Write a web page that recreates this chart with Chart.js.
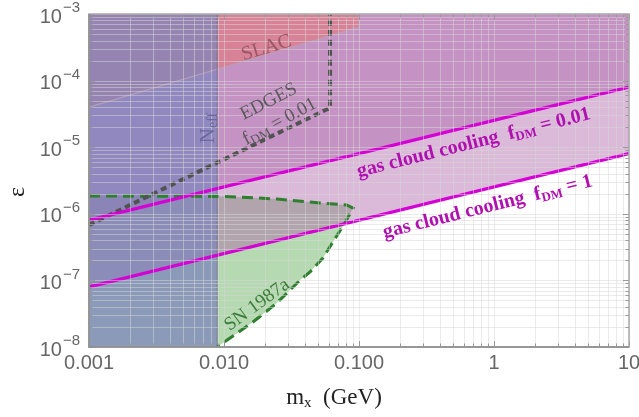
<!DOCTYPE html>
<html><head><meta charset="utf-8">
<script src="https://cdn.jsdelivr.net/npm/chart.js@4.4.1/dist/chart.umd.min.js"></script>
<style>html,body{margin:0;padding:0;background:#fff}#wrap{width:639px;height:417px}</style>
</head><body><div id="wrap"><canvas id="c" width="639" height="417"></canvas></div>
<script>
// axis ranges and ticks
const xMin = 0.001, xMax = 10, yMin = 1e-8, yMax = 1e-3;
const xTickValues = [0.001, 0.01, 0.1, 1, 10];
const xTickLabels = ['0.001', '0.010', '0.100', '1', '10'];
const yTickExponents = [-3, -4, -5, -6, -7, -8];

// Neff excluded region (right edge)
const neffEdge = 0.0089;
// SLAC region lower boundary
const slacX = [0.001, 0.1, 0.1];
const slacY = [4e-5, 6.3e-4, 1e-3];
// EDGES f_DM=0.01 dashed
const edgesX = [0.001, 0.061, 0.061];
const edgesY = [6.8e-7, 3.9e-5, 1e-3];
// gas cloud cooling lines
const gasX = [0.001, 10];
const gasF1 = [8e-8, 8e-6];
const gasF001 = [8e-7, 8e-5];
// SN 1987a boundary
const snX = [0.001, 0.01, 0.0247, 0.0514, 0.081, 0.0904, 0.0787, 0.054, 0.0434, 0.0366, 0.0247, 0.0164, 0.0089];
const snY = [1.85e-6, 1.82e-6, 1.67e-6, 1.45e-6, 1.36e-6, 1.22e-6, 7.3e-7, 2.17e-7, 1.34e-7, 1.01e-7, 4.6e-8, 2.37e-8, 1e-8];

const pts = (xs, ys) => xs.map((x, i) => ({x: x, y: ys[i]}));
const neffPoly = pts([xMin, neffEdge, neffEdge, xMin], [yMin, yMin, yMax, yMax]);
const slacPoly = pts(slacX.concat([xMin]), slacY.concat([yMax]));
const snPoly = pts(snX.concat([xMin]), snY.concat([yMin]));

const base = {showLine: true, pointRadius: 0, pointHoverRadius: 0, tension: 0};
const datasets = [
  Object.assign({}, base, {label: 'gasF1', data: pts(gasX, gasF1), borderColor: '#d400d4', borderWidth: 3.2, fill: false, order: 1}),
  Object.assign({}, base, {label: 'gasF001', data: pts(gasX, gasF001), borderColor: '#d400d4', borderWidth: 3.2, fill: false, order: 2}),
  Object.assign({}, base, {label: 'edges', data: pts(edgesX, edgesY), borderColor: '#525252', borderWidth: 4, borderDash: [6, 4], fill: false, order: 3}),
  Object.assign({}, base, {label: 'sn', data: pts(snX, snY), borderColor: '#2e7f2e', borderWidth: 3, borderDash: [11, 6], fill: false, order: 4}),
  Object.assign({}, base, {label: 'neffEdge', data: pts([neffEdge, neffEdge], [yMin, yMax]), borderColor: 'rgba(110,110,130,0.8)', borderWidth: 1, fill: false, order: 5}),
  Object.assign({}, base, {label: 'slacEdge', data: pts(slacX, slacY), borderColor: 'rgba(185,160,185,0.9)', borderWidth: 1.2, fill: false, order: 5.5}),
  Object.assign({}, base, {label: 'neffFill', data: neffPoly, borderWidth: 0, backgroundColor: 'rgba(126,132,188,0.74)', fill: 'shape', order: 6}),
  Object.assign({}, base, {label: 'slacFill', data: slacPoly, borderWidth: 0, backgroundColor: 'rgba(235,115,110,0.5)', fill: 'shape', order: 7}),
  Object.assign({}, base, {label: 'gasF001Fill', data: pts(gasX, gasF001), borderWidth: 0, backgroundColor: 'rgba(174,100,170,0.45)', fill: 'end', order: 8}),
  Object.assign({}, base, {label: 'gasF1Fill', data: pts(gasX, gasF1), borderWidth: 0, backgroundColor: 'rgba(174,100,170,0.45)', fill: 'end', order: 9}),
  Object.assign({}, base, {label: 'snFill', data: snPoly, borderWidth: 0, backgroundColor: 'rgba(100,175,90,0.48)', fill: 'shape', order: 10})
];

function rich(ctx, parts, cx, cy, angleDeg, color) {
  ctx.save();
  ctx.translate(cx, cy);
  ctx.rotate(angleDeg * Math.PI / 180);
  ctx.fillStyle = color;
  ctx.textBaseline = 'alphabetic';
  ctx.textAlign = 'left';
  let w = 0;
  parts.forEach(p => { ctx.font = p.f; p.w = ctx.measureText(p.t).width; w += p.w; });
  let x = -w / 2;
  parts.forEach(p => { ctx.font = p.f; ctx.fillText(p.t, x, (p.dy || 0)); x += p.w; });
  ctx.restore();
}

const decor = {
  id: 'decor',
  afterDatasetsDraw(chart) {
    const ctx = chart.ctx, xs = chart.scales.x, ys = chart.scales.y, a = chart.chartArea;
    // grid on top of the fills
    ctx.save();
    ctx.lineWidth = 1;
    ctx.strokeStyle = 'rgba(215,215,215,0.5)';
    const minorX = [], minorY = [];
    for (let e = -3; e < 1; e++) for (let m = 1; m <= 9; m++) minorX.push(m * Math.pow(10, e));
    minorX.push(10);
    for (let e = -8; e < -3; e++) for (let m = 1; m <= 9; m++) minorY.push(m * Math.pow(10, e));
    minorY.push(1e-3);
    minorX.forEach(v => { const p = Math.round(xs.getPixelForValue(v)) + 0.5; ctx.beginPath(); ctx.moveTo(p, a.top); ctx.lineTo(p, a.bottom); ctx.stroke(); });
    minorY.forEach(v => { const p = Math.round(ys.getPixelForValue(v)) + 0.5; ctx.beginPath(); ctx.moveTo(a.left, p); ctx.lineTo(a.right, p); ctx.stroke(); });
    // frame ticks
    ctx.strokeStyle = '#999';
    minorX.forEach(v => {
      const p = Math.round(xs.getPixelForValue(v)) + 0.5;
      const major = Math.abs(Math.log10(v) - Math.round(Math.log10(v))) < 1e-6;
      const L = major ? 6 : 3.5;
      ctx.beginPath(); ctx.moveTo(p, a.bottom); ctx.lineTo(p, a.bottom - L); ctx.moveTo(p, a.top); ctx.lineTo(p, a.top + L); ctx.stroke();
    });
    minorY.forEach(v => {
      const p = Math.round(ys.getPixelForValue(v)) + 0.5;
      const major = Math.abs(Math.log10(v) - Math.round(Math.log10(v))) < 1e-6;
      const L = major ? 6 : 3.5;
      ctx.beginPath(); ctx.moveTo(a.left, p); ctx.lineTo(a.left + L, p); ctx.moveTo(a.right, p); ctx.lineTo(a.right - L, p); ctx.stroke();
    });
    // frame
    ctx.strokeStyle = '#a8a8a8';
    ctx.lineWidth = 1.5;
    ctx.strokeRect(a.left, a.top, a.right - a.left, a.bottom - a.top);
    ctx.strokeStyle = '#8c8c8c';
    ctx.beginPath(); ctx.moveTo(a.left, a.top); ctx.lineTo(a.left, a.bottom); ctx.lineTo(a.right, a.bottom); ctx.stroke();
    ctx.restore();

    // region labels
    const serif = '"Liberation Serif", "Times New Roman", serif';
    rich(ctx, [{t: 'SLAC', f: '20px ' + serif}], 268, 53, -17, '#9a5866');
    rich(ctx, [{t: 'EDGES', f: '19px ' + serif}], 271, 106, -27, '#5a5a5a');
    rich(ctx, [{t: 'f', f: '19px ' + serif}, {t: 'DM', f: '13px ' + serif, dy: 3}, {t: ' = 0.01', f: '19px ' + serif}], 282, 126, -28, '#5a5a5a');
    rich(ctx, [{t: 'N', f: '21px ' + serif}, {t: 'eff', f: '14px ' + serif, dy: 3}], 214, 128, -90, '#6a6aa0');
    rich(ctx, [{t: 'SN 1987a', f: '19px ' + serif}], 260, 309, -36, '#3a7d3a');
    rich(ctx, [{t: 'gas cloud cooling  f', f: 'bold 20px ' + serif}, {t: 'DM', f: 'bold 13px ' + serif, dy: 3}, {t: ' = 0.01', f: 'bold 20px ' + serif}], 475, 148, -14, '#b010b0');
    rich(ctx, [{t: 'gas cloud cooling  f', f: 'bold 20px ' + serif}, {t: 'DM', f: 'bold 13px ' + serif, dy: 3}, {t: ' = 1', f: 'bold 20px ' + serif}], 489, 212, -14, '#b010b0');

    // tick labels
    ctx.save();
    ctx.fillStyle = '#666';
    ctx.textAlign = 'center';
    ctx.textBaseline = 'middle';
    ctx.font = '20px "Liberation Sans", Arial, sans-serif';
    xTickValues.forEach((v, i) => ctx.fillText(xTickLabels[i], xs.getPixelForValue(v), a.bottom + 16));
    yTickExponents.forEach(e => {
      const p = ys.getPixelForValue(Math.pow(10, e));
      ctx.textAlign = 'right';
      ctx.font = '15px "Liberation Sans", Arial, sans-serif';
      const ex = '\u2212' + Math.abs(e);
      const ew = ctx.measureText(ex).width;
      ctx.fillText(ex, a.left - 9, p - 6);
      ctx.font = '20px "Liberation Sans", Arial, sans-serif';
      ctx.fillText('10', a.left - 9 - ew - 1, p + 3);
    });
    ctx.restore();
    // axis titles
    rich(ctx, [{t: 'm', f: '23px ' + serif}, {t: 'x', f: '15px ' + serif, dy: 3}, {t: '  (GeV)', f: '23px ' + serif}], 334, 404, 0, '#222');
    rich(ctx, [{t: '\u03b5', f: '24px ' + serif}], 24, 192, -90, '#222');
  }
};

new Chart(document.getElementById('c'), {
  type: 'scatter',
  data: {datasets: datasets},
  options: {
    responsive: false,
    animation: false,
    layout: {padding: {left: 89, right: 10, top: 14, bottom: 70}},
    plugins: {legend: {display: false}, tooltip: {enabled: false}},
    scales: {
      x: {type: 'logarithmic', min: xMin, max: xMax, display: false},
      y: {type: 'logarithmic', min: yMin, max: yMax, display: false}
    }
  },
  plugins: [decor]
});
</script></body></html>
